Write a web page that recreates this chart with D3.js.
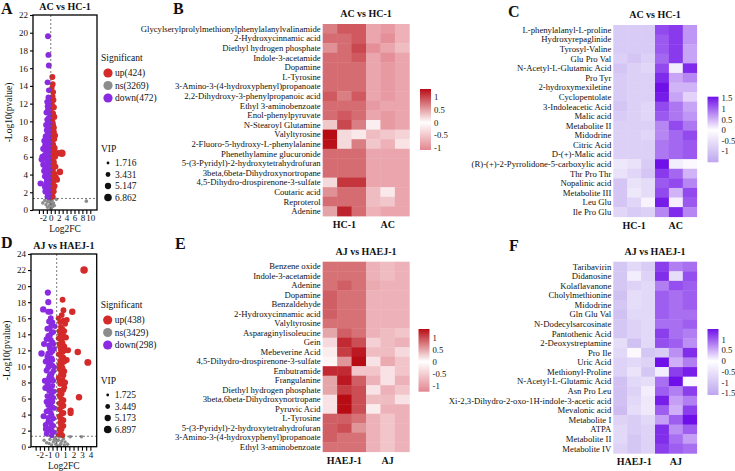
<!DOCTYPE html>
<html>
<head>
<meta charset="utf-8">
<script src="https://cdn.jsdelivr.net/npm/d3@7"></script>
<style>
  body { margin: 0; background: #fff; }
  text { font-family: "Liberation Serif", "Times New Roman", serif; fill: #111; }
</style>
</head>
<body>
<svg id="fig" width="735" height="471"></svg>
<script>
// ---- volcano data: [log2FC, -log10(p), VIP] ----
const aUp = [[0.4,15.0,4.8],[0.6,13.3,4.6],[0.3,12.1,4.0],[0.5,11.5,4.3],[0.7,10.6,4.6],[0.9,10.5,4.8],[0.4,10.1,4.0],[0.6,9.6,4.4],[0.3,9.2,3.8],[0.8,8.8,4.6],[0.5,8.4,4.2],[0.9,8.0,4.6],[0.3,7.7,3.8],[0.6,7.4,4.4],[1.0,7.0,4.6],[0.4,6.8,4.0],[1.8,6.4,5.5],[2.8,6.4,6.8],[0.7,6.2,4.5],[1.1,6.0,4.6],[0.4,5.7,4.0],[0.8,5.4,4.5],[0.3,5.1,3.8],[1.2,4.9,4.6],[0.6,4.6,4.3],[2.3,4.3,5.5],[0.9,4.1,4.6],[0.4,3.9,4.0],[1.3,3.7,4.6],[1.6,3.4,4.8],[0.7,3.2,4.3],[0.3,2.9,3.6],[1.0,2.7,4.4],[0.5,2.4,4.0],[0.8,2.1,4.2],[0.4,1.8,3.6],[0.6,1.5,3.8],[0.3,1.4,3.4],[1.1,8.4,4.6],[0.2,11.0,3.6],[0.5,12.8,4.2],[0.2,6.0,3.4],[0.2,4.4,3.4],[0.2,3.0,3.4],[0.5,14.2,4.4],[0.3,13.8,3.9],[0.7,12.4,4.5],[0.4,11.8,4.1],[0.8,11.6,4.6],[0.3,10.4,3.8],[0.6,10.9,4.4],[0.5,9.9,4.3],[0.8,9.3,4.6],[0.4,8.6,4.0],[0.7,8.1,4.5],[0.5,7.1,4.2],[0.8,6.6,4.5],[0.6,5.9,4.3],[0.5,5.2,4.2],[0.9,5.0,4.6],[0.4,4.3,4.0],[0.7,3.8,4.4],[0.5,3.4,4.2],[0.4,2.6,3.9],[0.7,2.4,4.3],[0.5,1.9,3.9]]
const aDown = [[-0.7,19.6,4.8],[-0.6,17.5,4.7],[-0.5,16.3,4.6],[-0.8,14.4,4.7],[-0.6,12.7,4.6],[-0.9,12.2,4.7],[-0.3,11.9,4.0],[-0.7,11.3,4.6],[-0.3,10.9,3.9],[-0.5,10.4,4.3],[-0.9,10.2,4.6],[-0.2,9.8,3.7],[-0.6,9.5,4.4],[-1.0,9.0,4.7],[-0.3,8.8,3.9],[-0.8,8.6,4.6],[-1.3,8.3,4.8],[-0.5,8.1,4.3],[-1.6,7.8,5.2],[-1.0,7.7,4.6],[-0.2,7.5,3.7],[-1.4,7.3,4.8],[-0.7,7.2,4.5],[-1.9,6.9,5.0],[-1.1,6.6,4.6],[-0.4,6.5,4.0],[-2.1,6.0,5.1],[-1.5,6.2,4.8],[-2.3,5.7,5.0],[-0.8,5.8,4.5],[-0.3,5.5,3.9],[-1.9,5.1,4.8],[-1.2,5.0,4.6],[-0.6,4.8,4.3],[-0.2,4.5,3.7],[-1.0,4.3,4.6],[-0.5,4.0,4.2],[-1.5,3.8,4.6],[-0.8,3.5,4.5],[-0.3,3.3,3.9],[-2.6,3.0,4.8],[-1.2,3.0,4.5],[-0.6,2.8,4.3],[-1.0,2.5,4.3],[-0.4,2.3,3.9],[-1.4,2.1,4.5],[-0.7,1.9,4.2],[-0.2,1.7,3.6],[-0.9,1.5,4.0],[-0.5,1.4,3.7],[-1.1,11.0,4.6],[-1.2,9.6,4.6],[-0.4,7.0,4.0],[-1.7,4.4,4.6],[-0.9,6.3,4.5],[-0.4,9.2,4.0],[-0.5,13.5,4.3],[-0.4,12.3,4.1],[-0.8,11.7,4.5],[-0.5,11.0,4.2],[-0.7,9.9,4.5],[-0.4,9.5,4.0],[-0.8,9.1,4.5],[-0.6,8.5,4.4],[-1.1,8.0,4.6],[-0.6,7.7,4.4],[-1.2,7.0,4.6],[-0.9,7.4,4.5],[-0.6,6.8,4.4],[-1.3,6.0,4.6],[-0.6,6.0,4.4],[-1.0,5.6,4.5],[-0.5,5.2,4.2],[-1.4,4.7,4.6],[-0.8,4.5,4.5],[-1.2,4.0,4.6],[-0.6,3.7,4.3],[-1.0,3.4,4.5],[-0.5,3.0,4.2],[-0.8,2.7,4.3],[-1.5,2.6,4.5],[-0.6,2.2,4.2],[-1.1,2.0,4.3],[-0.4,1.5,3.8]]
const aNs = [[-2.0,0.8,2.3],[-1.2,0.6,2.2],[-0.6,1.0,2.3],[-0.3,0.5,2.2],[0.0,0.2,2.2],[0.2,0.9,2.3],[0.5,0.4,2.2],[0.3,1.1,2.3],[-0.1,0.7,2.2],[1.4,1.2,2.3],[9.0,1.0,2.3],[-0.8,0.3,2.2],[0.7,0.8,2.2],[-0.4,1.2,2.3],[0.1,0.1,2.2],[0.9,0.5,2.2],[-1.5,1.1,2.3],[-0.2,0.9,2.2],[0.4,0.6,2.2],[-0.9,0.9,2.2]]

const dUp = [[3.25,22.0,6.8],[0.7,18.3,4.6],[0.8,17.0,4.6],[1.85,16.8,5.3],[0.8,15.7,4.6],[1.0,15.3,4.6],[0.5,14.9,4.4],[0.9,14.4,4.6],[0.4,14.0,4.2],[1.1,13.6,4.7],[0.6,13.2,4.5],[0.3,12.8,4.1],[0.9,12.5,4.6],[1.35,12.0,4.8],[2.5,11.8,5.4],[0.5,12.0,4.4],[0.2,11.5,3.9],[0.8,11.1,4.6],[3.7,10.5,6.0],[0.4,10.7,4.2],[0.6,10.2,4.5],[0.3,9.7,4.0],[0.9,9.4,4.6],[0.5,9.0,4.4],[0.2,8.6,3.9],[0.7,8.3,4.5],[0.4,7.8,4.2],[0.9,7.4,4.6],[0.3,7.0,4.0],[0.6,6.6,4.4],[2.65,6.15,5.3],[0.4,6.2,4.2],[0.8,5.8,4.5],[0.3,5.4,4.0],[0.6,5.0,4.4],[1.65,4.5,5.0],[1.65,4.2,5.0],[0.4,4.6,4.2],[0.8,4.2,4.5],[0.3,3.8,4.0],[0.6,3.4,4.4],[0.4,3.0,4.2],[0.8,2.6,4.4],[0.3,2.2,3.9],[0.5,1.8,4.0],[0.2,1.5,3.7],[0.7,1.4,4.0],[1.2,10.8,4.6],[0.2,13.5,3.9],[1.2,15.8,4.6],[0.2,16.0,3.9],[0.6,16.4,4.5],[0.4,15.5,4.3],[0.7,14.6,4.5],[0.3,14.4,4.0],[0.8,13.8,4.6],[0.5,13.4,4.4],[0.7,12.9,4.5],[0.4,12.4,4.2],[0.7,11.8,4.5],[0.5,11.3,4.3],[0.9,10.6,4.6],[0.3,10.2,4.0],[0.7,9.8,4.5],[0.5,9.5,4.3],[0.8,8.9,4.5],[0.3,8.2,4.0],[0.6,7.9,4.4],[0.8,7.1,4.5],[0.5,6.9,4.3],[0.3,6.4,4.0],[0.6,5.9,4.4],[0.5,5.5,4.3],[0.8,5.1,4.5],[0.3,4.7,4.0],[0.6,4.1,4.4],[0.4,3.6,4.2],[0.8,3.3,4.4],[0.5,2.7,4.2],[0.6,2.2,4.2],[0.4,1.9,4.0],[1.0,12.0,4.6],[1.0,8.0,4.6]]
const dDown = [[-1.05,19.2,5.0],[-1.0,18.0,4.9],[-1.6,17.1,5.2],[-1.0,16.8,4.8],[-0.75,16.8,4.8],[-0.9,15.6,4.7],[-0.6,15.2,4.5],[-1.1,14.7,4.7],[-0.4,14.3,4.2],[-0.8,13.9,4.6],[-1.2,13.4,4.7],[-0.5,13.0,4.3],[-0.9,12.6,4.6],[-0.3,12.2,4.0],[-1.8,11.6,5.4],[-0.7,11.7,4.5],[-1.1,11.2,4.6],[-0.5,10.8,4.3],[-0.9,10.3,4.6],[-0.3,9.9,4.0],[-1.2,9.5,4.7],[-0.6,9.1,4.5],[-0.9,8.6,4.6],[-0.4,8.2,4.2],[-1.1,7.7,4.6],[-0.7,7.3,4.5],[-0.3,6.9,4.0],[-1.35,7.3,4.8],[-0.8,6.0,4.5],[-0.5,5.6,4.3],[-1.0,5.2,4.6],[-0.3,4.8,4.0],[-1.2,4.4,4.6],[-0.7,4.2,4.5],[-1.55,3.8,4.9],[-0.4,3.5,4.2],[-1.0,3.1,4.5],[-1.3,2.7,4.6],[-0.6,2.5,4.3],[-0.9,2.0,4.3],[-0.3,1.8,3.9],[-1.2,1.6,4.3],[-0.6,1.4,3.9],[-1.5,12.8,4.9],[-1.3,10.6,4.8],[-1.4,8.2,4.8],[-0.2,15.0,3.9],[-0.7,16.0,4.5],[-0.5,15.5,4.3],[-0.8,14.8,4.5],[-0.6,14.2,4.4],[-1.0,13.8,4.6],[-0.7,13.3,4.5],[-0.4,12.8,4.2],[-0.8,12.2,4.5],[-0.5,11.9,4.3],[-1.0,11.6,4.6],[-0.6,11.0,4.4],[-0.8,10.6,4.5],[-0.5,10.1,4.3],[-1.0,9.9,4.6],[-0.4,9.4,4.2],[-0.8,8.9,4.5],[-0.6,8.5,4.4],[-1.0,8.1,4.6],[-0.5,7.6,4.3],[-0.9,7.0,4.5],[-0.6,6.6,4.4],[-1.1,6.3,4.6],[-0.4,6.1,4.2],[-0.7,5.4,4.5],[-1.2,5.6,4.6],[-0.5,4.9,4.3],[-0.9,4.6,4.5],[-0.6,3.9,4.4],[-1.0,3.6,4.5],[-0.7,3.0,4.4],[-0.4,2.6,4.1],[-0.8,2.3,4.3],[-1.3,2.2,4.5],[-0.5,1.9,4.0]]
const dNs = [[-1.2,0.5,2.2],[-0.8,0.9,2.3],[-0.4,0.6,2.2],[-0.1,0.3,2.2],[0.2,0.8,2.3],[0.5,0.4,2.2],[0.8,1.0,2.3],[1.0,0.6,2.2],[1.6,1.25,2.3],[2.95,1.25,2.3],[-0.6,0.2,2.2],[0.3,1.2,2.3],[-1.5,0.8,2.2],[0.0,0.7,2.3],[1.3,0.3,2.2],[-0.2,1.1,2.3],[0.1,0.1,2.2],[-0.3,0.9,2.2],[0.4,0.2,2.2],[0.6,0.7,2.2],[-0.9,0.4,2.2],[0.9,0.2,2.2]]

const aCounts = ['up(424)', 'ns(3269)', 'down(472)']
const dCounts = ['up(438)', 'ns(3429)', 'down(298)']
const aVip = [1.716, 3.431, 5.147, 6.862]
const dVip = [1.725, 3.449, 5.173, 6.897]

// ---- heatmap data (z-scores, 3 control cols then 3 case cols) ----
const bRows = ['Glycylserylprolylmethionylphenylalanylvalinamide','2-Hydroxycinnamic acid','Diethyl hydrogen phosphate','Indole-3-acetamide','Dopamine','L-Tyrosine','3-Amino-3-(4-hydroxyphenyl)propanoate','2,2-Dihydroxy-3-phenylpropanoic acid','Ethyl 3-aminobenzoate','Enol-phenylpyruvate','N-Stearoyl Glutamine','Valyltyrosine','2-Fluoro-5-hydroxy-L-phenylalanine','Phenethylamine glucuronide','5-(3-Pyridyl)-2-hydroxytetrahydrofuran','3beta,6beta-Dihydroxynortropane','4,5-Dihydro-drospirenone-3-sulfate','Coutaric acid','Reproterol','Adenine']
const bValues = [[0.7,0.9,0.9,-0.8,-0.9,-0.7],[0.8,0.8,0.9,-0.8,-1.0,-0.7],[0.6,0.8,1.0,-1.0,-0.8,-0.6],[0.8,0.8,0.9,-0.8,-1.0,-0.8],[0.8,0.8,0.8,-0.8,-0.9,-0.8],[0.8,0.8,0.8,-0.8,-0.9,-0.8],[0.8,0.8,0.8,-0.8,-0.9,-0.8],[0.9,0.7,0.9,-0.8,-0.9,-0.8],[0.8,0.8,0.8,-0.9,-0.8,-0.8],[0.8,0.9,0.8,-0.8,-0.9,-0.8],[0.3,1.0,0.7,-0.15,-0.9,-0.8],[1.5,0.2,-0.2,-0.6,-0.5,-0.4],[1.3,0.2,0.7,-0.5,-0.7,-0.25],[0.8,0.8,0.8,-0.8,-0.8,-0.8],[0.8,0.8,0.8,-0.8,-0.8,-0.8],[0.8,0.8,0.8,-0.8,-0.8,-0.8],[0.2,1.1,1.1,-0.8,-0.8,-0.8],[0.6,0.8,0.8,-0.6,-0.2,-0.8],[0.8,0.8,0.8,-0.6,-0.5,-0.8],[0.5,1.2,0.8,-0.7,-0.8,-0.8]]

const cRows = ['L-phenylalanyl-L-proline','Hydroxyrepaglinide','Tyrosyl-Valine','Glu Pro Val','N-Acetyl-L-Glutamic Acid','Pro Tyr','2-hydroxymexiletine','Cyclopentolate','3-Indoleacetic Acid','Malic acid','Metabolite II','Midodrine','Citric Acid','D-(+)-Malic acid','(R)-(+)-2-Pyrrolidone-5-carboxylic acid','Thr Pro Thr','Nopalinic acid','Metabolite III','Leu Glu','Ile Pro Glu']
const cValues = [[-0.9,-0.9,-0.9,1.2,1.3,0.7],[-0.9,-0.9,-0.9,1.1,1.3,0.7],[-0.9,-0.9,-0.9,1.1,1.3,0.6],[-0.8,-1.0,-0.8,1.0,1.3,0.6],[-1.0,-0.8,-0.7,1.2,-0.3,1.4],[-0.9,-0.8,-0.8,1.4,0.6,0.8],[-0.9,-0.8,-0.8,1.6,0.5,0.5],[-0.9,-0.8,-0.8,1.5,0.6,0.3],[-1.0,-0.8,-0.7,1.2,0.9,0.6],[-0.9,-0.8,-0.7,1.1,0.9,0.7],[-0.8,-0.8,-0.8,0.8,1.2,0.9],[-0.8,-0.8,-0.7,0.8,1.0,1.2],[-0.8,-0.8,-0.8,0.9,1.0,1.1],[-0.8,-0.8,-0.8,0.9,1.0,1.1],[-0.4,-0.5,-0.9,1.9,-0.3,-0.1],[-0.5,-0.7,-1.0,1.3,1.0,0.5],[-1.0,-0.5,-0.6,1.1,1.2,0.8],[-1.0,-0.4,-0.6,1.2,0.5,1.2],[-1.0,-0.7,-0.2,1.5,0.1,1.1],[-0.7,-0.9,-0.8,0.8,1.4,0.8]]

const eRows = ['Benzene oxide','Indole-3-acetamide','Adenine','Dopamine','Benzaldehyde','2-Hydroxycinnamic acid','Valyltyrosine','Asparaginylisoleucine','Gein','Mebeverine Acid','4,5-Dihydro-drospirenone-3-sulfate','Embutramide','Frangulanine','Diethyl hydrogen phosphate','3beta,6beta-Dihydroxynortropane','Pyruvic Acid','L-Tyrosine','5-(3-Pyridyl)-2-hydroxytetrahydrofuran','3-Amino-3-(4-hydroxyphenyl)propanoate','Ethyl 3-aminobenzoate']
const eValues = [[0.8,0.8,0.8,-0.8,-0.7,-0.8],[0.8,0.8,0.8,-0.8,-0.7,-0.8],[0.8,0.9,0.8,-0.9,-0.8,-0.8],[0.9,0.8,0.8,-0.8,-0.8,-0.8],[0.9,0.8,0.8,-0.8,-0.8,-0.8],[0.9,0.8,0.8,-0.8,-0.8,-0.8],[0.8,0.8,0.8,-0.8,-0.8,-0.8],[0.5,0.9,0.8,-0.8,-0.7,-0.6],[-0.4,1.2,1.0,-0.5,-0.7,-0.8],[-0.2,1.1,1.3,-0.7,-0.7,-0.4],[-0.1,0.6,1.8,-0.3,-0.9,-0.6],[1.2,1.2,-0.6,-0.6,-0.3,-0.6],[0.5,1.3,0.9,-0.8,-0.3,-0.8],[0.5,1.1,1.0,-0.3,-0.8,-0.6],[-0.3,1.5,1.0,-0.7,-0.7,-0.3],[-0.3,1.4,1.0,-0.2,-0.8,-0.8],[0.9,0.9,0.8,-0.8,-0.6,-0.8],[0.9,1.0,0.6,-0.8,-0.6,-0.8],[0.9,0.8,0.8,-0.8,-0.6,-0.8],[0.8,0.8,0.8,-0.8,-0.6,-0.8]]

const fRows = ['Taribavirin','Didanosine','Kolaflavanone','Cholylmethionine','Midodrine','Gln Glu Val','N-Dodecylsarcosinate','Pantothenic Acid','2-Deoxystreptamine','Pro Ile','Uric Acid','Methionyl-Proline','N-Acetyl-L-Glutamic Acid','Asn Pro Leu','Xi-2,3-Dihydro-2-oxo-1H-indole-3-acetic acid','Mevalonic acid','Metabolite I','ATPA','Metabolite II','Metabolite IV']
const fValues = [[-1.0,-0.7,-0.9,1.2,0.8,0.9],[-1.0,-0.3,-0.8,1.3,-0.6,1.1],[-1.0,-0.8,-0.7,0.8,1.1,1.0],[-1.1,-0.6,-0.7,1.0,0.9,1.0],[-1.0,-0.6,-0.7,1.0,0.9,1.0],[-1.1,-0.7,-0.7,1.0,0.9,0.9],[-1.0,-0.8,-0.7,0.9,0.9,1.0],[-1.0,-0.8,-0.7,1.2,0.9,0.8],[-0.6,-1.1,-0.7,1.1,1.0,0.7],[-0.7,-0.1,-1.0,-0.9,0.7,1.3],[-0.8,-0.7,-0.8,1.5,0.5,0.8],[-0.8,-0.5,-1.0,-0.3,1.2,1.4],[-1.1,-0.7,-0.6,0.9,1.6,-0.1],[-1.1,-0.8,-0.3,1.0,0.8,1.2],[-1.1,-0.7,-0.4,1.4,0.6,0.8],[-1.2,-0.6,-0.4,1.0,0.5,1.2],[-0.8,-0.9,-0.7,0.6,1.0,1.5],[-0.7,-0.9,-0.8,1.3,0.7,1.0],[-0.7,-1.0,-0.8,1.3,0.9,0.6],[-0.8,-1.0,-0.8,1.2,1.0,0.9]]

const redRamp = ['#e38690', '#ffffff', '#b80c15']
const purpleRamp = ['#bda6ee', '#ffffff', '#6f10e8']
const upColor = '#d42a2a', nsColor = '#8c8c8c', downColor = '#8a2be2'

const svg = d3.select('#fig')
const defs = svg.append('defs')

function panelLetter(txt, x, y) {
  svg.append('text').attr('x', x).attr('y', y).attr('font-size', 16)
    .attr('font-weight', 'bold').text(txt)
}

function volcano(cfg) {
  const g = svg.append('g')
  const x = d3.scaleLinear().domain(cfg.xDomain).range([cfg.left, cfg.right])
  const y = d3.scaleLinear().domain(cfg.yDomain).range([cfg.bottom, cfg.top])
  const r = d3.scaleSqrt().domain([1.7, 6.9]).range([1.4, 3.8])

  g.append('text').attr('x', (cfg.left + cfg.right) / 2).attr('y', cfg.top - 5)
    .attr('text-anchor', 'middle').attr('font-size', 10).attr('font-weight', 'bold')
    .text(cfg.title)

  const groups = [[cfg.ns, nsColor], [cfg.up, upColor], [cfg.down, downColor]]
  groups.forEach(([pts, col]) => {
    g.append('g').selectAll('circle').data(pts).enter().append('circle')
      .attr('cx', d => x(d[0])).attr('cy', d => y(d[1])).attr('r', d => r(d[2]))
      .attr('fill', col)
  })

  g.append('line').attr('x1', x(0)).attr('x2', x(0)).attr('y1', cfg.top).attr('y2', cfg.bottom)
    .attr('stroke', '#555').attr('stroke-width', 0.8).attr('stroke-dasharray', '2,2')
  g.append('line').attr('x1', cfg.left).attr('x2', cfg.right).attr('y1', y(1.3)).attr('y2', y(1.3))
    .attr('stroke', '#555').attr('stroke-width', 0.8).attr('stroke-dasharray', '2,2')

  g.append('rect').attr('x', cfg.left).attr('y', cfg.top)
    .attr('width', cfg.right - cfg.left).attr('height', cfg.bottom - cfg.top)
    .attr('fill', 'none').attr('stroke', '#000').attr('stroke-width', 1.3)

  const yAxis = g.append('g').attr('transform', `translate(${cfg.left},0)`)
    .call(d3.axisLeft(y).tickValues(cfg.yTicks).tickSize(3).tickPadding(2))
  const xAxis = g.append('g').attr('transform', `translate(0,${cfg.bottom})`)
    .call(d3.axisBottom(x).tickValues(cfg.xTicks).tickSize(4).tickPadding(1)
      .tickFormat(d => cfg.xLabels.includes(d) ? d : ''))
  ;[yAxis, xAxis].forEach(a => {
    a.select('.domain').remove()
    a.selectAll('line').attr('stroke', '#000').attr('stroke-width', 1.1)
    a.selectAll('text').attr('font-size', 9).attr('font-family', '"Liberation Serif", serif').attr('fill', '#111')
  })

  g.append('text').attr('transform', `translate(${cfg.left - 21},${(cfg.top + cfg.bottom) / 2}) rotate(-90)`)
    .attr('text-anchor', 'middle').attr('font-size', 9.5).text('-Log10(pvalue)')
  g.append('text').attr('x', (cfg.left + cfg.right) / 2).attr('y', cfg.bottom + 22)
    .attr('text-anchor', 'middle').attr('font-size', 9.5).text('Log2FC')

  // legends
  const lx = cfg.right + 4
  g.append('text').attr('x', lx).attr('y', cfg.legTop).attr('font-size', 9.5).text('Significant')
  const cols = [upColor, nsColor, downColor]
  cfg.counts.forEach((c, i) => {
    const cy = cfg.legTop + 12 + i * 12.5
    g.append('circle').attr('cx', lx + 7).attr('cy', cy).attr('r', 4.6).attr('fill', cols[i])
    g.append('text').attr('x', lx + 14).attr('y', cy).attr('dy', '0.35em').attr('font-size', 9.5).text(c)
  })
  g.append('text').attr('x', lx).attr('y', cfg.vipTop).attr('font-size', 9.5).text('VIP')
  cfg.vip.forEach((v, i) => {
    const cy = cfg.vipTop + 11 + i * 11.5
    g.append('circle').attr('cx', lx + 7).attr('cy', cy).attr('r', r(v)).attr('fill', '#111')
    g.append('text').attr('x', lx + 14).attr('y', cy).attr('dy', '0.35em').attr('font-size', 9.5).text(v.toFixed(3))
  })
}

function heatmap(cfg) {
  const g = svg.append('g')
  const x = d3.scaleBand().domain(d3.range(6)).range([cfg.left, cfg.right])
  const y = d3.scaleBand().domain(d3.range(cfg.rows.length)).range([cfg.top, cfg.bottom])
  const color = d3.scaleLinear().domain(cfg.domain).range(cfg.ramp).clamp(true)

  g.append('text').attr('x', (cfg.left + cfg.right) / 2).attr('y', cfg.top - 7)
    .attr('text-anchor', 'middle').attr('font-size', 10).attr('font-weight', 'bold').text(cfg.title)

  g.selectAll('g.row').data(cfg.values).enter().append('g')
    .attr('transform', (d, i) => `translate(0,${y(i)})`)
    .selectAll('rect').data(d => d).enter().append('rect')
    .attr('x', (d, j) => x(j)).attr('width', x.bandwidth() + 0.4)
    .attr('height', y.bandwidth() + 0.4).attr('fill', d => color(d))

  g.selectAll('text.lab').data(cfg.rows).enter().append('text')
    .attr('x', cfg.left - 2).attr('y', (d, i) => y(i) + y.bandwidth() / 2).attr('dy', '0.35em')
    .attr('text-anchor', 'end').attr('font-size', 8.7).text(d => d)

  cfg.groups.forEach((name, k) => {
    g.append('text').attr('x', x(k * 3) + x.bandwidth() * 1.5).attr('y', cfg.bottom + 12)
      .attr('text-anchor', 'middle').attr('font-size', 10).attr('font-weight', 'bold').text(name)
  })

  // colour key
  const gid = 'grad' + cfg.id
  const lo = cfg.domain[0], hi = cfg.domain[2]
  const grad = defs.append('linearGradient').attr('id', gid)
    .attr('x1', 0).attr('y1', 1).attr('x2', 0).attr('y2', 0)
  cfg.domain.forEach(v => {
    grad.append('stop').attr('offset', (v - lo) / (hi - lo)).attr('stop-color', color(v))
  })
  const cy = d3.scaleLinear().domain([lo, hi]).range([cfg.cbBottom, cfg.cbTop])
  g.append('rect').attr('x', cfg.cbX).attr('y', cfg.cbTop).attr('width', 11)
    .attr('height', cfg.cbBottom - cfg.cbTop).attr('fill', `url(#${gid})`)
  g.selectAll('text.tick').data(cfg.cbTicks).enter().append('text')
    .attr('x', cfg.cbX + 14).attr('y', d => cy(d)).attr('dy', '0.35em')
    .attr('font-size', 8.7).text(d => d)
}

panelLetter('A', 1, 14)
panelLetter('B', 173, 14)
panelLetter('C', 508, 17)
panelLetter('D', 1, 248)
panelLetter('E', 175, 249)
panelLetter('F', 509, 251)

volcano({
  title: 'AC vs HC-1', left: 33, right: 97, top: 15, bottom: 210,
  xDomain: [-4.5, 11.7], yDomain: [0, 22],
  xTicks: d3.range(-3, 11, 1), xLabels: [-2, 0, 2, 4, 6, 8, 10], yTicks: d3.range(0, 23, 2),
  up: aUp, down: aDown, ns: aNs, counts: aCounts, vip: aVip, legTop: 61, vipTop: 152
})
volcano({
  title: 'AJ vs HAEJ-1', left: 31, right: 96.7, top: 254, bottom: 446.7,
  xDomain: [-3.05, 4.75], yDomain: [0, 24],
  xTicks: d3.range(-2.5, 4.5, 0.5), xLabels: [-2, -1, 0, 1, 2, 3, 4], yTicks: d3.range(0, 25, 2),
  up: dUp, down: dDown, ns: dNs, counts: dCounts, vip: dVip, legTop: 308, vipTop: 384
})

heatmap({ id: 'B', title: 'AC vs HC-1', rows: bRows, values: bValues, groups: ['HC-1', 'AC'],
  left: 322.7, right: 409.3, top: 24, bottom: 216, domain: [-1.08, 0, 1.32], ramp: redRamp,
  cbX: 420, cbTop: 89, cbBottom: 150, cbTicks: [1, 0.5, 0, -0.5, -1] })
heatmap({ id: 'C', title: 'AC vs HC-1', rows: cRows, values: cValues, groups: ['HC-1', 'AC'],
  left: 613.3, right: 696.7, top: 25, bottom: 216.7, domain: [-1.53, 0, 1.58], ramp: purpleRamp,
  cbX: 707.5, cbTop: 96.7, cbBottom: 162.3, cbTicks: [1.5, 1, 0.5, 0, -0.5, -1] })
heatmap({ id: 'E', title: 'AJ vs HAEJ-1', rows: eRows, values: eValues, groups: ['HAEJ-1', 'AJ'],
  left: 322.7, right: 409.3, top: 261.7, bottom: 451.7, domain: [-1.26, 0, 1.37], ramp: redRamp,
  cbX: 418.5, cbTop: 329, cbBottom: 391.7, cbTicks: [1, 0.5, 0, -0.5, -1] })
heatmap({ id: 'F', title: 'AJ vs HAEJ-1', rows: fRows, values: fValues, groups: ['HAEJ-1', 'AJ'],
  left: 613.3, right: 696.7, top: 261.7, bottom: 453.3, domain: [-1.58, 0, 1.49], ramp: purpleRamp,
  cbX: 707.5, cbTop: 329, cbBottom: 395, cbTicks: [1, 0.5, 0, -0.5, -1, -1.5] })
</script>
</body>
</html>
